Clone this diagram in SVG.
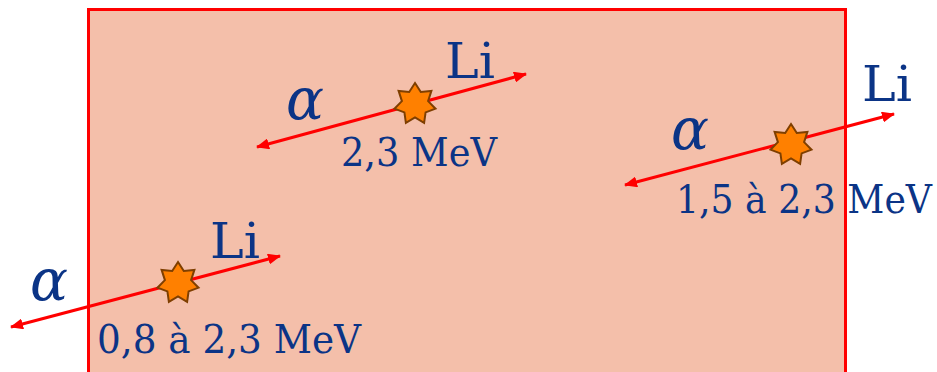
<svg xmlns="http://www.w3.org/2000/svg" width="937" height="372" viewBox="0 0 937 372">
<defs>
<style>
.lbl{font-family:"DejaVu Serif","Liberation Serif",serif;fill:#0B3486}
.li{font-size:49px}
.al{font-family:"DejaVu Serif","Liberation Serif",serif;font-style:italic;font-size:58px;fill:#0B3486}
.en{font-size:39px}
.arr{stroke:#FF0000;stroke-width:3;fill:none;marker-start:url(#ah);marker-end:url(#ah)}
.star{fill:#FF8000;stroke:#7F3F00;stroke-width:2;stroke-linejoin:miter}
</style>
<marker id="ah" viewBox="0 0 13 11" refX="12" refY="5.5" markerWidth="13" markerHeight="11" markerUnits="userSpaceOnUse" orient="auto-start-reverse">
<path d="M0,0 L13,5.5 L0,11 Z" fill="#FF0000"/>
</marker>
<polygon id="st" points="0,-21 5.8,-12 16.4,-13.1 13.1,-2.9 20.5,4.7 10.6,8.4 9.1,18.9 0,13.5 -9.1,18.9 -10.6,8.4 -20.5,4.7 -13.1,-2.9 -16.4,-13.1 -5.8,-12"/>
</defs>
<rect id="target" x="88.5" y="9.5" width="757" height="370" fill="#F4BFAA" stroke="#FF0000" stroke-width="3"/>
<g id="connectors">
<line class="arr" x1="257" y1="147" x2="526" y2="74"/>
<line class="arr" x1="11" y1="327" x2="280" y2="256"/>
<line class="arr" x1="625" y1="185" x2="894" y2="114"/>
</g>
<g id="event1">
<use href="#st" class="star" x="415" y="104"/>
<text class="lbl li" x="445" y="78" textLength="50" lengthAdjust="spacingAndGlyphs">Li</text>
<text class="al" x="286" y="119" textLength="38" lengthAdjust="spacingAndGlyphs">α</text>
<text class="lbl en" x="341" y="166" textLength="156" lengthAdjust="spacingAndGlyphs">2,3 MeV</text>
</g>
<g id="event2">
<use href="#st" class="star" x="178" y="283"/>
<text class="lbl li" x="210" y="258" textLength="50" lengthAdjust="spacingAndGlyphs">Li</text>
<text class="al" x="30" y="300" textLength="38" lengthAdjust="spacingAndGlyphs">α</text>
<text class="lbl en" x="97" y="353" textLength="264" lengthAdjust="spacingAndGlyphs">0,8 à 2,3 MeV</text>
</g>
<g id="event3">
<use href="#st" class="star" x="791" y="145"/>
<text class="lbl li" x="862" y="101" textLength="50" lengthAdjust="spacingAndGlyphs">Li</text>
<text class="al" x="671" y="149" textLength="38" lengthAdjust="spacingAndGlyphs">α</text>
<text class="lbl en" x="676" y="213" textLength="256" lengthAdjust="spacingAndGlyphs">1,5 à 2,3 MeV</text>
</g>
</svg>
